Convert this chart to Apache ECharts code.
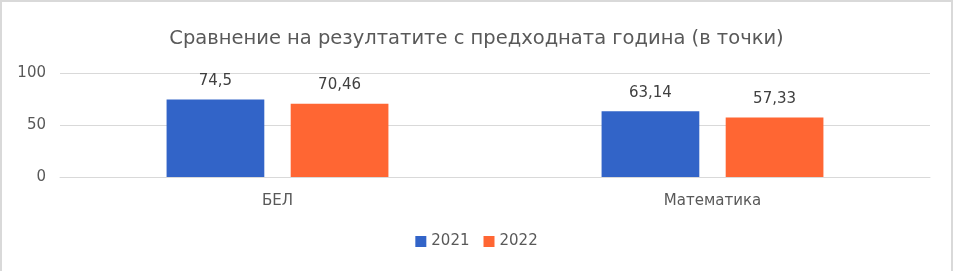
<!DOCTYPE html>
<html><head><meta charset="utf-8">
<script src="https://cdn.jsdelivr.net/npm/echarts@6/dist/echarts.min.js"></script>
<style>html,body{margin:0;padding:0;background:#fff}#c{width:953px;height:271px;box-sizing:border-box;border:2px solid #d9d9d9;border-bottom:none}</style>
</head><body><div id="c"></div>
<script>
const categories = ['БЕЛ', 'Математика'];
const seriesNames = ['2021', '2022'];
const values2021 = [74.5, 63.14];
const values2022 = [70.46, 57.33];
const yTicks = [0, 50, 100];
const colors = ['#3264C8', '#FF6633'];
const fmt = v => String(v.value).replace('.', ',');
const chart = echarts.init(document.getElementById('c'), null, {renderer: 'canvas'});
const font = '"DejaVu Sans", sans-serif';
chart.setOption({
  animation: false,
  title: {text: 'Сравнение на резултатите с предходната година (в точки)', left: 'center', top: 22,
    textStyle: {fontFamily: font, fontWeight: 'normal', fontSize: 19.5, color: '#595959'}},
  grid: {left: 58, right: 21, top: 71, bottom: 94},
  legend: {bottom: 17, left: 'center', itemWidth: 11, itemHeight: 11, itemGap: 14,
    icon: 'rect', textStyle: {fontFamily: font, fontSize: 15, color: '#595959'}},
  xAxis: {type: 'category', data: categories, axisTick: {show: false},
    axisLine: {lineStyle: {color: '#d9d9d9'}},
    axisLabel: {fontFamily: font, fontSize: 15, color: '#595959', margin: 17}},
  yAxis: {type: 'value', min: yTicks[0], max: yTicks[2], interval: 50,
    axisLabel: {fontFamily: font, fontSize: 15, color: '#595959', margin: 14},
    splitLine: {lineStyle: {color: '#d9d9d9'}}},
  series: [
    {name: seriesNames[0], type: 'bar', data: values2021, barGap: '27%', barCategoryGap: '49%',
     itemStyle: {color: colors[0]},
     label: {show: true, position: 'top', distance: 11, formatter: fmt, fontFamily: font, fontSize: 15, color: '#404040'}},
    {name: seriesNames[1], type: 'bar', data: values2022, barGap: '27%', barCategoryGap: '49%',
     itemStyle: {color: colors[1]},
     label: {show: true, position: 'top', distance: 11, formatter: fmt, fontFamily: font, fontSize: 15, color: '#404040'}}
  ]
});
</script></body></html>
